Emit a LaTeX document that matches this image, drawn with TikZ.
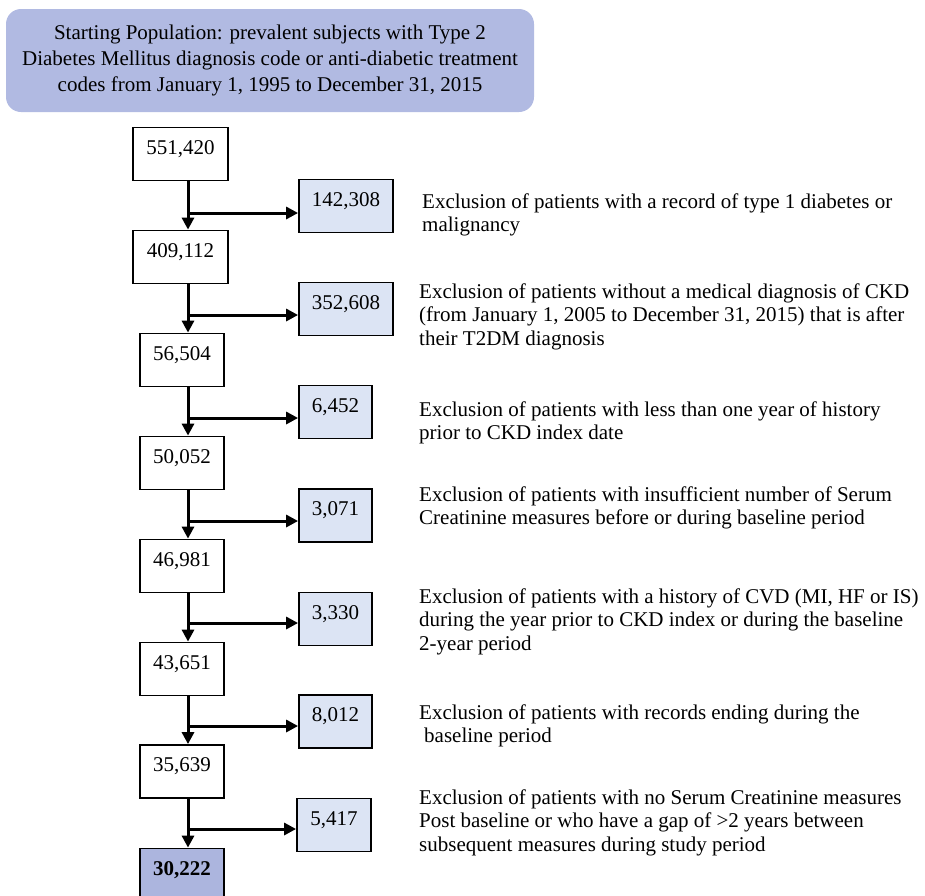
\documentclass[tikz,border=0pt]{standalone}
\usepackage{fontspec}
\setmainfont{Liberation Serif}
\usetikzlibrary{arrows.meta}
\definecolor{topfill}{RGB}{177,186,226}
\definecolor{exfill}{RGB}{220,228,244}
\definecolor{finfill}{RGB}{172,181,222}
\begin{document}
\begin{tikzpicture}[x=1pt,y=-1pt,
  numbox/.style={draw, line width=1.8pt, inner xsep=0pt, inner ysep=0pt,
    text height=26.5pt, text depth=26.5pt, anchor=base, align=center,
    font=\fontsize{21}{24}\selectfont},
  exbox/.style={numbox, fill=exfill},
  finbox/.style={numbox, fill=finfill, font=\fontsize{21}{24}\selectfont\bfseries},
  topbox/.style={fill=topfill, rounded corners=15pt, align=center, inner sep=0pt,
    font=\fontsize{21}{26}\selectfont},
  desc/.style={anchor=base west, inner sep=0pt, align=left,
    font=\fontsize{21}{23.5}\selectfont},
  arr/.style={line width=3pt, -{Triangle[length=12pt,width=12pt]}}
]
\useasboundingbox (0,0) rectangle (925,895);

\node[topbox, minimum width=528pt, minimum height=103pt] (top) at (270,60.5)
  {Starting Population: prevalent subjects with Type 2\\
   Diabetes Mellitus diagnosis code or anti-diabetic treatment\\
   codes from January 1, 1995 to December 31, 2015};

% main column
\node[numbox, minimum width=95pt] (b1) at (180.5,154) {551,420};
\node[numbox, minimum width=95pt] (b2) at (180.5,257) {409,112};
\node[numbox, minimum width=84pt] (b3) at (182,360) {56,504};
\node[numbox, minimum width=84pt] (b4) at (182,463) {50,052};
\node[numbox, minimum width=84pt] (b5) at (182,566) {46,981};
\node[numbox, minimum width=84pt] (b6) at (182,669) {43,651};
\node[numbox, minimum width=84pt] (b7) at (182,771.5) {35,639};
\node[finbox, minimum width=84pt] (b8) at (182,875) {30,222};

% exclusion boxes
\node[exbox, minimum width=94pt] (e1) at (346,206) {142,308};
\node[exbox, minimum width=94pt] (e2) at (346,309) {352,608};
\node[exbox, minimum width=73pt] (e3) at (335.5,412) {6,452};
\node[exbox, minimum width=73pt] (e4) at (335.5,515.5) {3,071};
\node[exbox, minimum width=73pt] (e5) at (335.5,619) {3,330};
\node[exbox, minimum width=73pt] (e6) at (335.5,721.5) {8,012};
\node[exbox, minimum width=74pt] (e7) at (334,825) {5,417};

% descriptions (anchored at the baseline of the last line)
\node[desc] (t1) at (422,231.5) {Exclusion of patients with a record of type 1 diabetes or\\malignancy};
\node[desc] (t2) at (419,345) {Exclusion of patients without a medical diagnosis of CKD\\(from January 1, 2005 to December 31, 2015) that is after\\their T2DM diagnosis};
\node[desc] (t3) at (419,439.5) {Exclusion of patients with less than one year of history\\prior to CKD index date};
\node[desc] (t4) at (419,524.5) {Exclusion of patients with insufficient number of Serum\\Creatinine measures before or during baseline period};
\node[desc] (t5) at (419,650) {Exclusion of patients with a history of CVD (MI, HF or IS)\\during the year prior to CKD index or during the baseline\\2-year period};
\node[desc] (t6) at (419,742.5) {Exclusion of patients with records ending during the\\\hspace*{5pt}baseline period};
\node[desc] (t7) at (419,851) {Exclusion of patients with no Serum Creatinine measures\\Post baseline or who have a gap of >2 years between\\subsequent measures during study period};

% connectors
\coordinate (col) at (188,0);
\coordinate (h1) at (188,213);
\coordinate (h2) at (188,315);
\coordinate (h3) at (188,418);
\coordinate (h4) at (188,521);
\coordinate (h5) at (188,623);
\coordinate (h6) at (188,726);
\coordinate (h7) at (188,829);

\foreach \a/\b in {b1/b2,b2/b3,b3/b4,b4/b5,b5/b6,b6/b7,b7/b8}
  \draw[arr] (\a.south -| col) -- (\b.north -| col);
\foreach \i in {1,...,7}
  \draw[arr] (h\i) -- (h\i -| e\i.west);
\end{tikzpicture}
\end{document}
